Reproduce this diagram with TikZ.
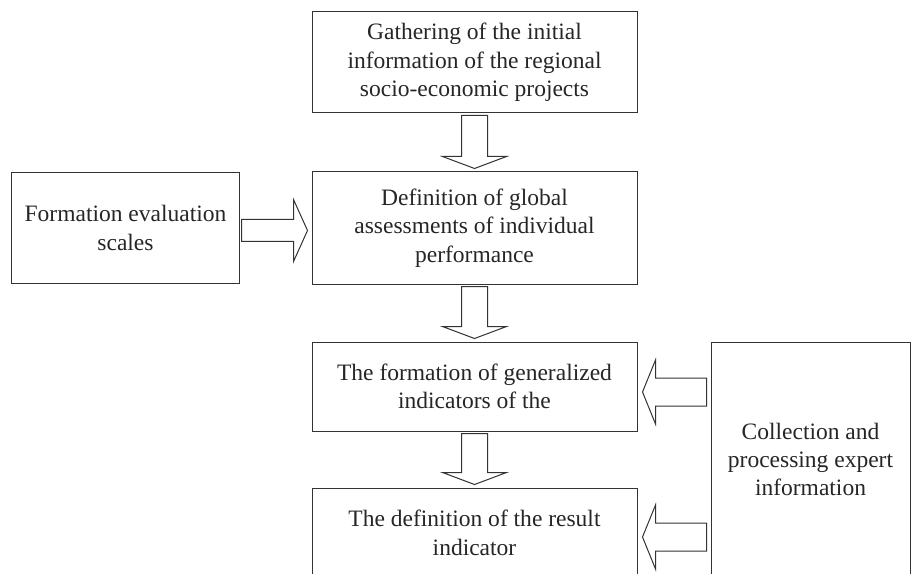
\documentclass[tikz,border=0pt]{standalone}
\usepackage{fontspec}
\setmainfont{Liberation Serif}
\usetikzlibrary{calc}

% hollow block arrows between two boxes
\newcommand{\arrowdown}[2]{%
  \draw[hollow] ($(#1.south)+(-13,2)$) -- ($(#2.north)+(-13,-15)$) -- ++(-19,0)
    -- ($(#2.north)+(0,-3)$) -- ($(#2.north)+(32,-15)$) -- ++(-19,0)
    -- ($(#1.south)+(13,2)$) -- cycle;}
\newcommand{\arrowleft}[3]{%
  \draw[hollow] ($(#2.east)+(5,#3)$) -- ++(13,-32) -- ++(0,18)
    -- ($(#1.west |- #2.east)+(-4,#3-14)$) -- ++(0,28)
    -- ($(#2.east)+(18,#3+14)$) -- ++(0,18) -- cycle;}
\newcommand{\arrowright}[3]{%
  \draw[hollow] ($(#2.west)+(-4,#3)$) -- ++(-14,-31) -- ++(0,20)
    -- ($(#1.east |- #2.west)+(2,#3-11)$) -- ++(0,22)
    -- ($(#2.west)+(-18,#3+11)$) -- ++(0,20) -- cycle;}

\begin{document}
\begin{tikzpicture} [
    x=1bp, y=-1bp,
    block/.style    = { rectangle, draw=black!80, line width=1bp, text=black!85,
                        align=center, inner sep=0pt,
                        font=\fontsize{23.6}{28.5}\selectfont },
    hollow/.style   = { draw=black!80, line width=1bp, line join=miter },
  ]
  \useasboundingbox (0,0) rectangle (913,574);

  % Define nodes
  \node[block, minimum width=325bp, minimum height=101bp] (gather) at (474.5,62.5)
    {Gathering of the initial\\information of the regional\\socio-economic projects};
  \node[block, minimum width=325bp, minimum height=112bp] (define) at (474.5,228)
    {Definition of global\\assessments of individual\\performance};
  \node[block, minimum width=227bp, minimum height=110bp] (scales) at (125.5,228)
    {Formation evaluation\\scales};
  \node[block, minimum width=325bp, minimum height=89bp] (general) at (474.5,386.5)
    {The formation of generalized\\indicators of the};
  \node[block, minimum width=325bp, minimum height=90bp] (result) at (474.5,533)
    {The definition of the result\\indicator};
  \node[block, minimum width=199bp, minimum height=233bp] (expert) at (810.5,459.5)
    {Collection and\\processing expert\\information};

  % connect the nodes
  \arrowdown{gather}{define}
  \arrowdown{define}{general}
  \arrowdown{general}{result}
  \arrowright{scales}{define}{2.5}
  \arrowleft{expert}{general}{5.5}
  \arrowleft{expert}{result}{4}
\end{tikzpicture}
\end{document}
